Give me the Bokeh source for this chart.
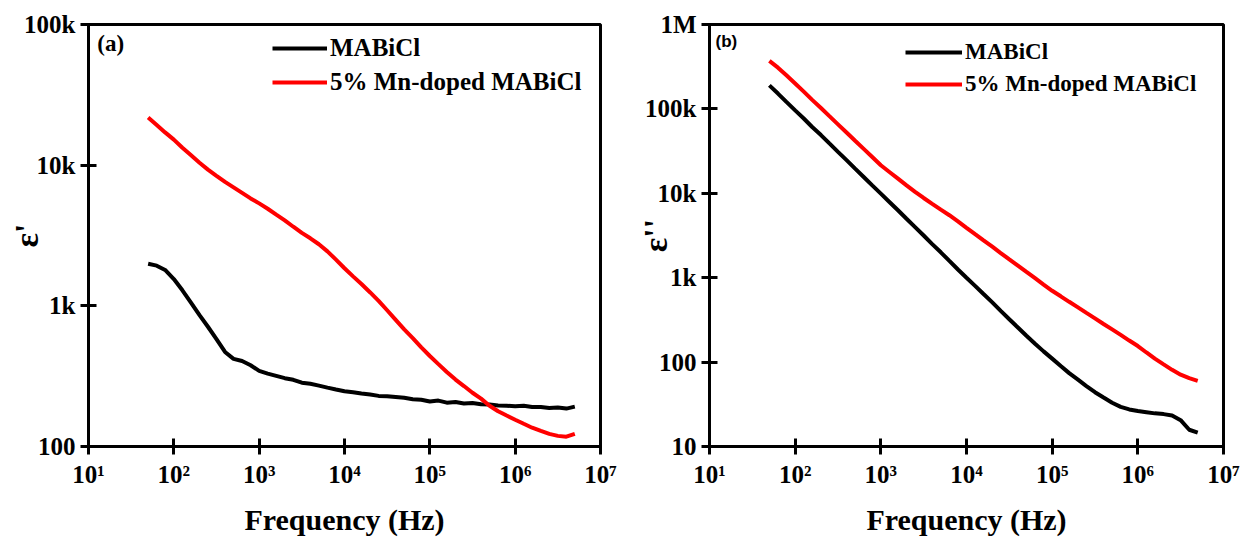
from bokeh.plotting import figure
from bokeh.layouts import row
from bokeh.models import FixedTicker, CustomJSTickFormatter, Legend, LegendItem, Label
from bokeh.embed import file_html
from bokeh.resources import INLINE

# ---------------- data ----------------
freq = [50, 63, 79, 100, 126, 158, 200, 251, 316, 398,
        501, 631, 794, 1000, 1259, 1585, 1995, 2512, 3162, 3981,
        5012, 6310, 7943, 1e4, 1.26e4, 1.58e4, 2e4, 2.51e4, 3.16e4, 3.98e4,
        5.01e4, 6.31e4, 7.94e4, 1e5, 1.26e5, 1.58e5, 2e5, 2.51e5, 3.16e5, 3.98e5,
        5.01e5, 6.31e5, 7.94e5, 1e6, 1.26e6, 1.58e6, 2e6, 2.51e6, 3.16e6, 3.98e6,
        5e6]

# (a) real permittivity eps'
eps1_mabicl = [1990, 1930, 1800, 1550, 1290, 1060, 860, 710, 580, 470,
               420, 405, 378, 345, 330, 318, 306, 298, 284, 279,
               271, 262, 254, 247, 243, 238, 234, 229, 228, 225,
               222, 217, 215, 209, 212, 205, 207, 202, 204, 200,
               199, 196, 195, 193, 195, 191, 191, 188, 189, 186,
               192]
eps1_mn = [21800, 19300, 17100, 15200, 13300, 11800, 10400, 9300, 8400, 7600,
           6950, 6350, 5800, 5350, 4900, 4450, 4050, 3650, 3300, 3020,
           2740, 2440, 2130, 1850, 1620, 1430, 1245, 1085, 930, 795,
           680, 590, 507, 440, 385, 339, 299, 269, 241, 219,
           195, 178, 166, 155, 145, 136, 129, 123, 119, 117.5,
           123]

# (b) imaginary permittivity eps''
eps2_mabicl = [190000, 152000, 121000, 96000, 77000, 61000, 49000, 39000, 31000, 24700,
               19600, 15600, 12400, 9900, 7900, 6300, 5000, 3980, 3160, 2500,
               2000, 1580, 1250, 1000, 800, 640, 510, 405, 322, 257,
               205, 165, 134, 110, 90, 74, 62, 52, 44, 38,
               33, 29.5, 27.5, 26.3, 25.5, 24.7, 24.2, 23.3, 20.5, 15.8,
               14.6]
eps2_mn = [370000, 308000, 250000, 200000, 160000, 128000, 102500, 82000, 65600, 52500,
           42000, 33600, 26900, 21500, 17900, 14900, 12400, 10400, 8800, 7500,
           6400, 5500, 4650, 3900, 3280, 2770, 2330, 1960, 1650, 1390,
           1170, 987, 830, 700, 602, 518, 445, 383, 330, 283,
           244, 210, 180, 155, 130, 110, 94, 81, 71, 64.5,
           60]

series_labels = ["MABiCl", "5% Mn-doped MABiCl"]
series_colors = ["#000000", "#ff0000"]

x_ticks = [10, 100, 1000, 10000, 100000, 1000000, 10000000]
x_tick_labels = ["10\u00b9", "10\u00b2", "10\u00b3", "10\u2074", "10\u2075", "10\u2076", "10\u2077"]
ya_ticks = [100, 1000, 10000, 100000]
ya_tick_labels = ["100", "1k", "10k", "100k"]
yb_ticks = [10, 100, 1000, 10000, 100000, 1000000]
yb_tick_labels = ["10", "100", "1k", "10k", "100k", "1M"]

SERIF = "Liberation Serif"


def tick_fmt(vals, labs):
    return CustomJSTickFormatter(args=dict(vals=vals, labs=labs), code="""
        let best = 0, bd = Infinity;
        for (let i = 0; i < vals.length; i++) {
            const d = Math.abs(Math.log10(tick) - Math.log10(vals[i]));
            if (d < bd) { bd = d; best = i; }
        }
        return labs[best];
    """)


def make_panel(width, height, borders, y_range, y_ticks, y_labels, ylabel,
               ys, legend_loc, legend_font, glyph_w, item_h, item_sp,
               tag, tag_pos, tag_font, tag_size, ylabel_standoff):
    p = figure(width=width, height=height, x_axis_type="log", y_axis_type="log",
               x_range=(10, 1e7), y_range=y_range,
               output_backend="svg", toolbar_location=None,
               min_border_left=borders[0], min_border_right=borders[1],
               min_border_top=borders[2], min_border_bottom=borders[3])
    p.grid.visible = False
    p.background_fill_color = "white"
    p.border_fill_color = "white"
    p.outline_line_color = "black"
    p.outline_line_width = 3
    p.outline_line_alpha = 1

    p.xaxis.ticker = FixedTicker(ticks=x_ticks, minor_ticks=[])
    p.xaxis.formatter = tick_fmt(x_ticks, x_tick_labels)
    p.yaxis.ticker = FixedTicker(ticks=y_ticks, minor_ticks=[])
    p.yaxis.formatter = tick_fmt(y_ticks, y_labels)

    for ax in (p.xaxis[0], p.yaxis[0]):
        ax.axis_line_width = 3
        ax.axis_line_color = "black"
        ax.major_tick_line_width = 3
        ax.major_tick_line_color = "black"
        ax.major_tick_in = 8
        ax.major_tick_out = 8
        ax.minor_tick_line_color = None
        ax.major_label_text_font = SERIF
        ax.major_label_text_font_style = "bold"
        ax.major_label_text_font_size = "25px"
        ax.major_label_text_color = "black"
        ax.axis_label_text_font = SERIF
        ax.axis_label_text_font_style = "bold"
        ax.axis_label_text_color = "black"

    p.xaxis.major_label_standoff = 6
    p.yaxis.major_label_standoff = 5
    p.xaxis.axis_label = "Frequency (Hz)"
    p.xaxis.axis_label_text_font_size = "30px"
    p.xaxis.axis_label_standoff = 12
    p.yaxis.axis_label = ylabel
    p.yaxis.axis_label_text_font_size = "34px"
    p.yaxis.axis_label_standoff = ylabel_standoff

    items = []
    for vals, lab, col in zip(ys, series_labels, series_colors):
        r = p.line(freq, vals, line_width=4, line_color=col)
        items.append(LegendItem(label=lab, renderers=[r]))

    leg = Legend(items=items, location=legend_loc,
                 border_line_color=None, background_fill_alpha=0,
                 glyph_width=glyph_w, glyph_height=item_h, label_height=item_h,
                 spacing=item_sp, padding=0, margin=0, label_standoff=3,
                 label_text_font=SERIF, label_text_font_style="bold",
                 label_text_font_size=legend_font, label_text_color="black",
                 label_text_baseline="middle")
    p.add_layout(leg)

    p.add_layout(Label(x=tag_pos[0], y=tag_pos[1], text=tag,
                       text_font=tag_font, text_font_style="bold",
                       text_font_size=tag_size, text_color="black",
                       text_baseline="middle", text_align="left"))
    return p


pa = make_panel(620, 538, (88, 20, 24, 91), (100, 1e5), ya_ticks, ya_tick_labels,
                "\u03b5'", [eps1_mabicl, eps1_mn], (184, 350), "25px", 55, 26, 6,
                "(a)", (12.7, 73000), SERIF, "23px", -24)
pb = make_panel(625, 538, (89, 22, 24, 90), (10, 1e6), yb_ticks, yb_tick_labels,
                "\u03b5''", [eps2_mabicl, eps2_mn], (196, 349), "23px", 57, 24, 6,
                "(b)", (11.75, 630000), "Liberation Sans", "17px", -32)

layout = row(pa, pb)
open("out.html", "w").write(file_html(layout, INLINE))
